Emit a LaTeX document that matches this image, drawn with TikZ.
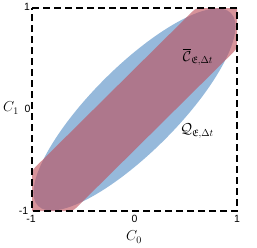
\documentclass[tikz,border=0pt]{standalone}
\usepackage{amssymb}
\usepackage{fontspec}
\newfontfamily\tickfont{Liberation Sans}
\definecolor{blueE}{RGB}{150,185,219}
\definecolor{redC}{RGB}{190,80,92}
\begin{document}
\begin{tikzpicture}[x=1pt,y=1pt,
  tick/.style={font=\tickfont\fontsize{10.5}{11}\selectfont, inner sep=0pt},
  lab/.style={font=\fontsize{14.5}{16}\selectfont, inner sep=0pt},
  setlab/.style={font=\fontsize{14}{16}\selectfont, inner sep=0pt},
  boxline/.style={line width=1.3pt, dash pattern=on 7pt off 4pt}]
\useasboundingbox (0,0) rectangle (257,-247);
\begin{scope}[shift={(134.5,-109.5)}, x=102.5pt, y=101.5pt]
  \fill[blueE, rotate=45] (0,0) ellipse [x radius=1.33, y radius=0.42];
  \fill[redC, fill opacity=0.62]
    (-1,-1) -- (-1,-0.67) .. controls (-1,-0.6) .. (-0.95,-0.55)
    -- (0.55,0.95) .. controls (0.6,1) .. (0.67,1)
    -- (1,1) -- (1,0.67) .. controls (1,0.6) .. (0.95,0.55)
    -- (-0.55,-0.95) .. controls (-0.6,-1) .. (-0.67,-1) -- cycle;
  \draw[boxline] (-1,1) -- (1,1) -- (1,-1) -- (-1,-1) -- cycle;
\end{scope}
\node[tick] (ty1) at (27,-7) {1};
\node[tick] (ty0) at (27.5,-109) {0};
\node[tick] (tym) at (23.5,-211) {-1};
\node[tick] (txm) at (31,-219) {-1};
\node[tick] (tx0) at (134.5,-219) {0};
\node[tick] (tx1) at (237,-219) {1};
\node[lab] (c0) at (134,-237) {$C_0$};
\node[lab] (c1) at (11,-108) {$C_1$};
\node[setlab] (cbar) at (198,-57) {$\overline{\mathcal{C}}_{\mathfrak{E},\Delta t}$};
\node[setlab] (qset) at (197,-131) {$\mathcal{Q}_{\mathfrak{E},\Delta t}$};
\end{tikzpicture}
\end{document}
